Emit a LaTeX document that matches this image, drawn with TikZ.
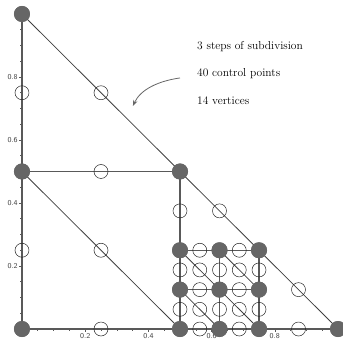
\documentclass[tikz,border=0pt]{standalone}
\usetikzlibrary{arrows.meta}
\begin{document}
\begin{tikzpicture}[x=316pt,y=315pt,
  vert/.style={circle,fill=black!60,inner sep=0pt,minimum size=16pt},
  ctrl/.style={circle,draw=black!85,line width=0.5pt,inner sep=0pt,minimum size=14pt},
  thick edge/.style={draw=black!65,line width=1.5pt},
  thin edge/.style={draw=black!75,line width=0.8pt},
  tick/.style={draw=black!65,line width=0.6pt},
  ticklabel/.style={font=\sffamily\fontsize{7.5}{8}\selectfont,text=black!75,inner sep=1pt},
  caption/.style={font=\fontsize{11.5}{13}\selectfont,anchor=west,inner sep=0pt}]
\useasboundingbox (-0.0696,-0.0349) rectangle (1.0158,1.0444);
% ticks
\foreach \t in {0.05,0.1,...,0.99} {
  \draw[tick] (\t,0) -- ++(0,-2pt);
  \draw[tick] (0,\t) -- ++(-2pt,0);
}
\foreach \t in {0.2,0.4,0.6,0.8} {
  \draw[tick] (\t,0) -- ++(0,-3pt) node[ticklabel,below] {\t};
  \draw[tick] (0,\t) -- ++(-3pt,0) node[ticklabel,left] {\t};
}
% vertices
\node[vert] (v00) at (0,0) {};
\node[vert] (v10) at (1,0) {};
\node[vert] (v01) at (0,1) {};
\node[vert] (v0h) at (0,0.5) {};
\node[vert] (vhh) at (0.5,0.5) {};
\foreach \i/\x in {0/0.5,1/0.625,2/0.75} {
  \foreach \j/\y in {0/0,1/0.125,2/0.25} {
    \node[vert] (g\i\j) at (\x,\y) {};
  }
}
% edges
\path[thick edge] (v00.center) -- (v10.center);
\path[thick edge] (v00.center) -- (v01.center);
\path[thick edge] (v0h.center) -- (vhh.center);
\path[thick edge] (vhh.center) -- (g00.center);
\path[thick edge] (g01.center) -- (g21.center);
\path[thick edge] (g02.center) -- (g22.center);
\path[thick edge] (g10.center) -- (g12.center);
\path[thick edge] (g20.center) -- (g22.center);
\path[thin edge] (v01.center) -- (v10.center);
\path[thin edge] (v0h.center) -- (g00.center);
\path[thin edge] (g02.center) -- (g20.center);
\path[thin edge] (g01.center) -- (g10.center);
\path[thin edge] (g12.center) -- (g21.center);
% redraw vertices on top
\foreach \n in {v00,v10,v01,v0h,vhh,g00,g01,g02,g10,g11,g12,g20,g21,g22} {
  \fill[black!60] (\n.center) circle (8pt);
}
% control points
\node[ctrl] (c1) at (0,0.75) {};
\node[ctrl] (c2) at (0.25,0.75) {};
\node[ctrl] (c3) at (0.25,0.5) {};
\node[ctrl] (c4) at (0,0.25) {};
\node[ctrl] (c5) at (0.25,0.25) {};
\node[ctrl] (c6) at (0.25,0) {};
\node[ctrl] (c7) at (0.5,0.375) {};
\node[ctrl] (c8) at (0.625,0.375) {};
\node[ctrl] (c9) at (0.875,0.125) {};
\node[ctrl] (c10) at (0.875,0) {};
\foreach \x in {0.5625,0.6875} {
  \foreach \y in {0,0.125,0.25} {
    \node[ctrl] at (\x,\y) {};
  }
}
\foreach \x in {0.5,0.5625,0.625,0.6875,0.75} {
  \foreach \y in {0.0625,0.1875} {
    \node[ctrl] at (\x,\y) {};
  }
}
% captions
\node[caption] (t1) at (0.5538,0.898) {3 steps of subdivision};
\node[caption] (t2) at (0.5538,0.8095) {40 control points};
\node[caption] (t3) at (0.5538,0.7238) {14 vertices};
\coordinate (as) at (0.50,0.797);
\coordinate (ae) at (0.351,0.708);
\draw[black!60,line width=0.8pt,-{Stealth[length=6pt,width=4.5pt]}] (as) .. controls (0.43,0.787) and (0.375,0.76) .. (ae);
\end{tikzpicture}
\end{document}
